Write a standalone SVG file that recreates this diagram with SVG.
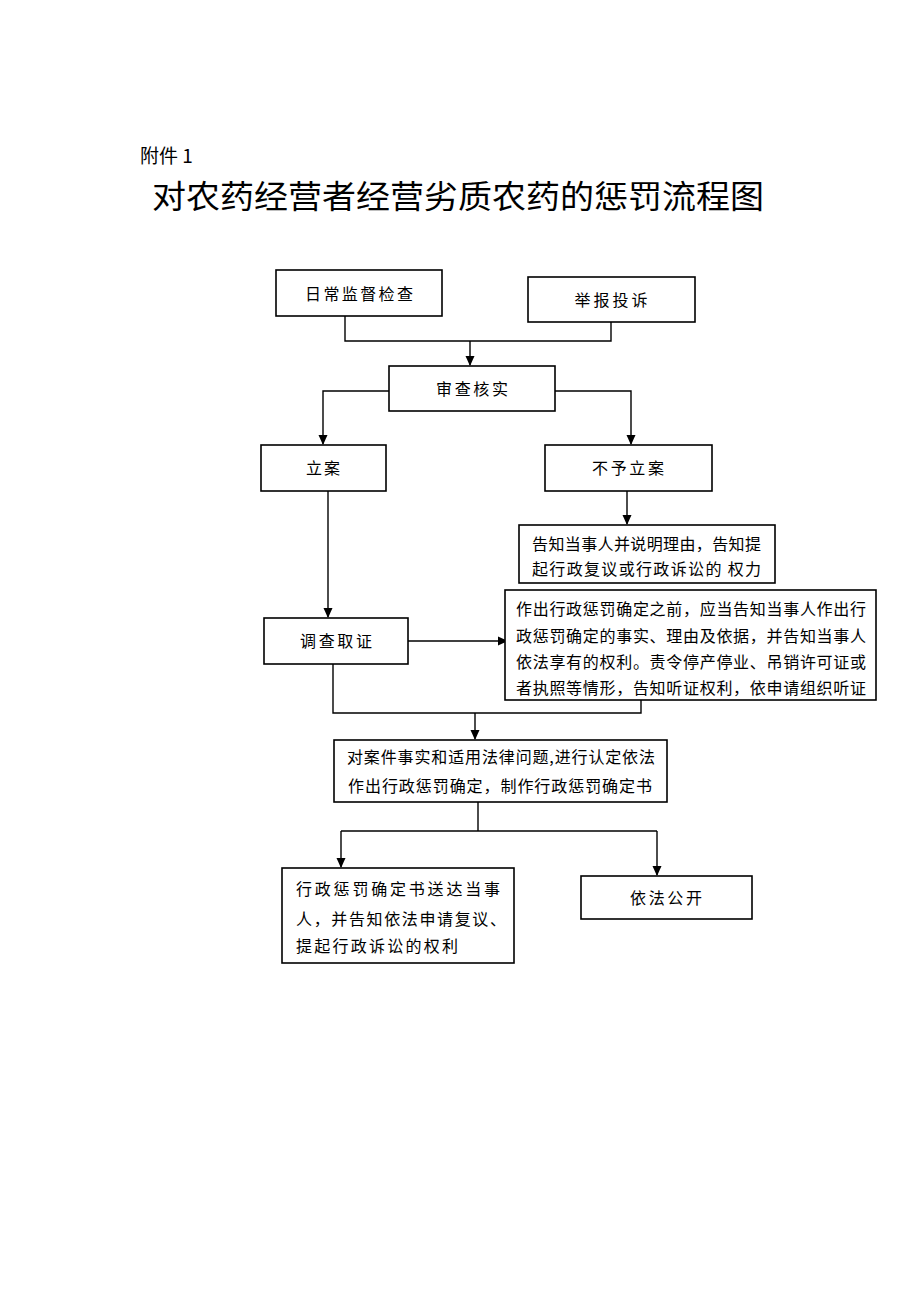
<svg xmlns="http://www.w3.org/2000/svg" width="920" height="1302" viewBox="0 0 920 1302">
<defs>
<marker id="ah" markerWidth="10" markerHeight="10" refX="9" refY="5" orient="auto" markerUnits="userSpaceOnUse">
<path d="M0,0.5 L10,5 L0,9.5 Z" fill="#000"/>
</marker>
<style>
.box{fill:#fff;stroke:#000;stroke-width:1.6}
.t{font-family:"Noto Sans CJK SC","Noto Sans CJK JP",sans-serif;font-size:16px;fill:#000}
.c{text-anchor:middle}
.ln{fill:none;stroke:#000;stroke-width:1.4}
</style>
</defs>
<rect width="920" height="1302" fill="#fff"/>
<text x="140" y="163" class="t" style="font-size:19px">附件 1</text>
<text x="152" y="208" class="t" style="font-size:32px" textLength="612" lengthAdjust="spacingAndGlyphs">对农药经营者经营劣质农药的惩罚流程图</text>

<g id="connectors">
<path class="ln" d="M345,316 V341 H611 V322"/>
<path class="ln" d="M470,341 V365" marker-end="url(#ah)"/>
<path class="ln" d="M389,391 H323 V444" marker-end="url(#ah)"/>
<path class="ln" d="M555,391 H631 V444" marker-end="url(#ah)"/>
<path class="ln" d="M627,491 V524" marker-end="url(#ah)"/>
<path class="ln" d="M328,491 V617" marker-end="url(#ah)"/>
<path class="ln" d="M408,641 H507" marker-end="url(#ah)"/>
<path class="ln" d="M333,664 V713 H641 V700"/>
<path class="ln" d="M475,713 V739" marker-end="url(#ah)"/>
<path class="ln" d="M478,802 V831"/>
<path class="ln" d="M341,831 H657"/>
<path class="ln" d="M341,831 V867" marker-end="url(#ah)"/>
<path class="ln" d="M657,831 V875" marker-end="url(#ah)"/>
</g>

<g id="n1"><rect class="box" x="276" y="270" width="166" height="46"/>
<text class="t c" x="359" y="300" textLength="108" lengthAdjust="spacing">日常监督检查</text></g>
<g id="n2"><rect class="box" x="528" y="277" width="167" height="45"/>
<text class="t c" x="611" y="306" textLength="73" lengthAdjust="spacing">举报投诉</text></g>
<g id="n3"><rect class="box" x="389" y="366" width="166" height="45"/>
<text class="t c" x="472" y="395" textLength="72" lengthAdjust="spacing">审查核实</text></g>
<g id="n4"><rect class="box" x="261" y="445" width="125" height="46"/>
<text class="t c" x="323" y="474" textLength="34" lengthAdjust="spacing">立案</text></g>
<g id="n5"><rect class="box" x="545" y="445" width="167" height="46"/>
<text class="t c" x="628" y="474" textLength="72" lengthAdjust="spacing">不予立案</text></g>
<g id="n6"><rect class="box" x="519" y="525" width="256" height="58"/>
<text class="t" x="532" y="550" textLength="229" lengthAdjust="spacing">告知当事人并说明理由，告知提</text>
<text class="t" x="532" y="575" textLength="229" lengthAdjust="spacing">起行政复议或行政诉讼的 权力</text></g>
<g id="n7"><rect class="box" x="264" y="618" width="144" height="46"/>
<text class="t c" x="336" y="647" textLength="72" lengthAdjust="spacing">调查取证</text></g>
<g id="n8"><rect class="box" x="505" y="590" width="371" height="110"/>
<text class="t" x="516" y="615" textLength="350" lengthAdjust="spacing">作出行政惩罚确定之前，应当告知当事人作出行</text>
<text class="t" x="516" y="642" textLength="350" lengthAdjust="spacing">政惩罚确定的事实、理由及依据，并告知当事人</text>
<text class="t" x="516" y="668" textLength="350" lengthAdjust="spacing">依法享有的权利。责令停产停业、吊销许可证或</text>
<text class="t" x="516" y="694" textLength="350" lengthAdjust="spacing">者执照等情形，告知听证权利，依申请组织听证</text></g>
<g id="n9"><rect class="box" x="334" y="740" width="333" height="62"/>
<text class="t" x="347" y="763" textLength="308" lengthAdjust="spacing">对案件事实和适用法律问题,进行认定依法</text>
<text class="t" x="348" y="792" textLength="304" lengthAdjust="spacing">作出行政惩罚确定，制作行政惩罚确定书</text></g>
<g id="n10"><rect class="box" x="282" y="868" width="232" height="95"/>
<text class="t" x="296" y="895" textLength="204" lengthAdjust="spacing">行政惩罚确定书送达当事</text>
<text class="t" x="296" y="925" textLength="210" lengthAdjust="spacing">人，并告知依法申请复议、</text>
<text class="t" x="296" y="952" textLength="162" lengthAdjust="spacing">提起行政诉讼的权利</text></g>
<g id="n11"><rect class="box" x="581" y="876" width="171" height="43"/>
<text class="t c" x="666" y="904" textLength="72" lengthAdjust="spacing">依法公开</text></g>
</svg>
